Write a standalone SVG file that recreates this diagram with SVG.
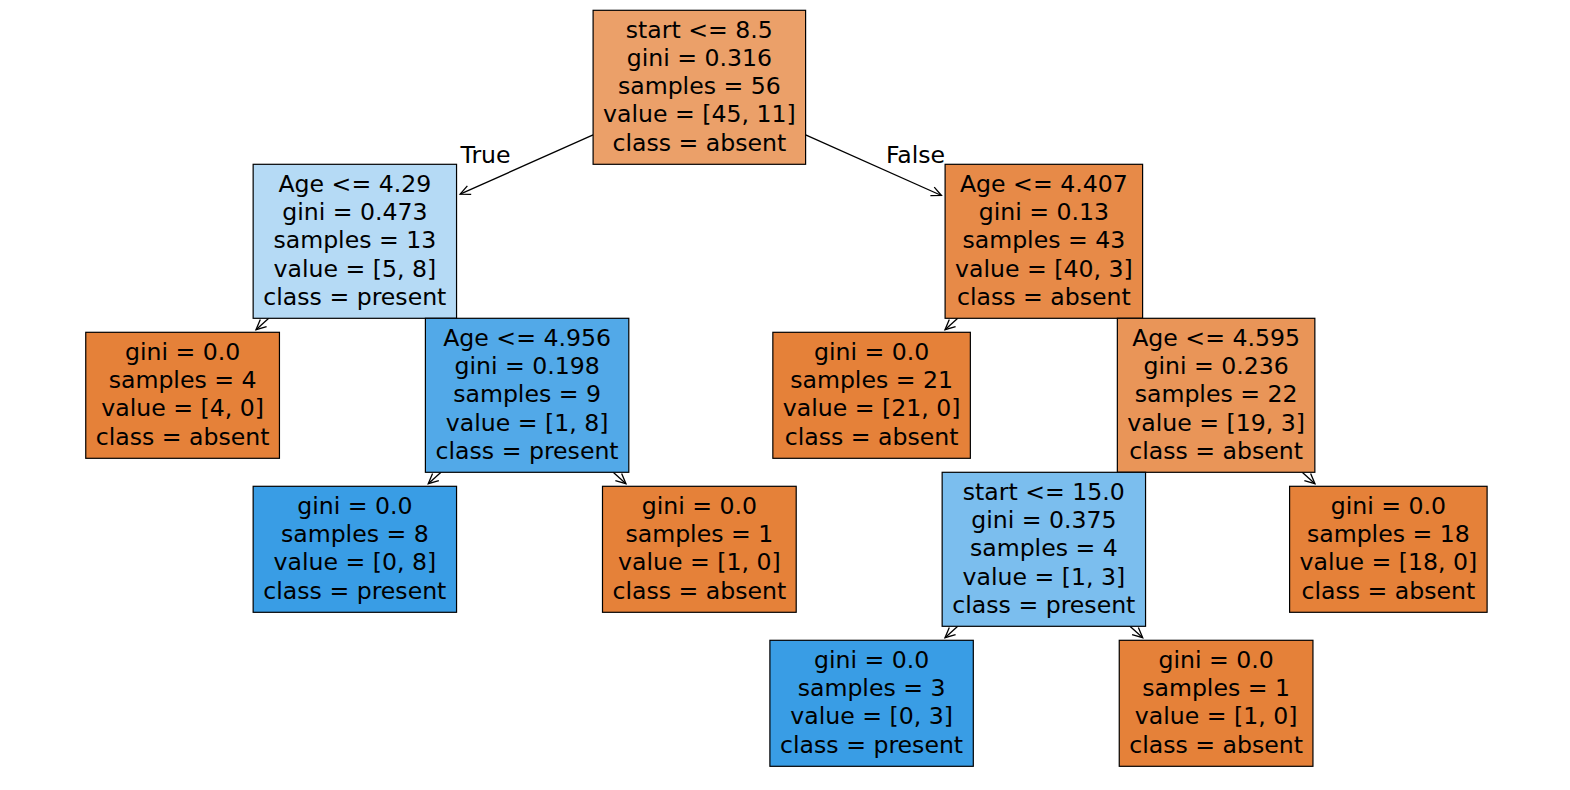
<svg xmlns="http://www.w3.org/2000/svg" width="1570" height="790" viewBox="0 0 1570 790">
<style>
rect.box{stroke:#000;stroke-width:1.2}
text{font-family:"DejaVu Sans","Liberation Sans",sans-serif;font-size:23.6px;fill:#000;text-anchor:middle}
.edges line{stroke:#000;stroke-width:1.3;marker-end:url(#ah)}
</style>
<defs>
<marker id="ah" markerUnits="userSpaceOnUse" viewBox="-12 -7 14 14" markerWidth="14" markerHeight="14" refX="0" refY="0" orient="auto" overflow="visible">
<path d="M-10,-4.7 L0,0 L-10,4.7" fill="none" stroke="#000" stroke-width="1.3"/>
</marker>
</defs>
<rect width="1570" height="790" fill="#fff"/>
<g class="edges" id="edges">
<line x1="593.1" y1="134.8" x2="460.15" y2="194.2"/>
<line x1="805.6" y1="134.8" x2="941.45" y2="195.5"/>
<line x1="268.75" y1="318.3" x2="256.0" y2="329.7"/>
<line x1="441.0" y1="472.3" x2="428.25" y2="483.7"/>
<line x1="613.2" y1="472.3" x2="625.95" y2="483.7"/>
<line x1="957.75" y1="318.3" x2="945.0" y2="329.7"/>
<line x1="1302.2" y1="472.3" x2="1314.95" y2="483.7"/>
<line x1="957.75" y1="626.3" x2="945.0" y2="637.7"/>
<line x1="1129.95" y1="626.3" x2="1142.7" y2="637.7"/>
</g>
<g id="edge-labels">
<text x="485.5" y="163.3">True</text>
<text x="915.5" y="163.3">False</text>
</g>
<g id="n0">
<rect class="box" x="593.1" y="10.3" width="212.5" height="154" fill="#eba069"/>
<text x="699.35" y="37.6">start &lt;= 8.5<tspan x="699.35" dy="28.3">gini = 0.316</tspan><tspan x="699.35" dy="28.3">samples = 56</tspan><tspan x="699.35" dy="28.3">value = [45, 11]</tspan><tspan x="699.35" dy="28.3">class = absent</tspan></text>
</g>
<g id="n1">
<rect class="box" x="253.15" y="164.3" width="203.4" height="154" fill="#b5daf5"/>
<text x="354.85" y="191.6">Age &lt;= 4.29<tspan x="354.85" dy="28.3">gini = 0.473</tspan><tspan x="354.85" dy="28.3">samples = 13</tspan><tspan x="354.85" dy="28.3">value = [5, 8]</tspan><tspan x="354.85" dy="28.3">class = present</tspan></text>
</g>
<g id="n2">
<rect class="box" x="85.75" y="332.3" width="193.7" height="126" fill="#e58139"/>
<text x="182.6" y="359.75">gini = 0.0<tspan x="182.6" dy="28.3">samples = 4</tspan><tspan x="182.6" dy="28.3">value = [4, 0]</tspan><tspan x="182.6" dy="28.3">class = absent</tspan></text>
</g>
<g id="n3">
<rect class="box" x="425.4" y="318.3" width="203.4" height="154" fill="#52a9e8"/>
<text x="527.1" y="345.6">Age &lt;= 4.956<tspan x="527.1" dy="28.3">gini = 0.198</tspan><tspan x="527.1" dy="28.3">samples = 9</tspan><tspan x="527.1" dy="28.3">value = [1, 8]</tspan><tspan x="527.1" dy="28.3">class = present</tspan></text>
</g>
<g id="n4">
<rect class="box" x="253.15" y="486.3" width="203.4" height="126" fill="#399de5"/>
<text x="354.85" y="513.75">gini = 0.0<tspan x="354.85" dy="28.3">samples = 8</tspan><tspan x="354.85" dy="28.3">value = [0, 8]</tspan><tspan x="354.85" dy="28.3">class = present</tspan></text>
</g>
<g id="n5">
<rect class="box" x="602.5" y="486.3" width="193.7" height="126" fill="#e58139"/>
<text x="699.35" y="513.75">gini = 0.0<tspan x="699.35" dy="28.3">samples = 1</tspan><tspan x="699.35" dy="28.3">value = [1, 0]</tspan><tspan x="699.35" dy="28.3">class = absent</tspan></text>
</g>
<g id="n6">
<rect class="box" x="945.1" y="164.3" width="197.5" height="154" fill="#e78a48"/>
<text x="1043.85" y="191.6">Age &lt;= 4.407<tspan x="1043.85" dy="28.3">gini = 0.13</tspan><tspan x="1043.85" dy="28.3">samples = 43</tspan><tspan x="1043.85" dy="28.3">value = [40, 3]</tspan><tspan x="1043.85" dy="28.3">class = absent</tspan></text>
</g>
<g id="n7">
<rect class="box" x="772.85" y="332.3" width="197.5" height="126" fill="#e58139"/>
<text x="871.6" y="359.75">gini = 0.0<tspan x="871.6" dy="28.3">samples = 21</tspan><tspan x="871.6" dy="28.3">value = [21, 0]</tspan><tspan x="871.6" dy="28.3">class = absent</tspan></text>
</g>
<g id="n8">
<rect class="box" x="1117.35" y="318.3" width="197.5" height="154" fill="#e99558"/>
<text x="1216.1" y="345.6">Age &lt;= 4.595<tspan x="1216.1" dy="28.3">gini = 0.236</tspan><tspan x="1216.1" dy="28.3">samples = 22</tspan><tspan x="1216.1" dy="28.3">value = [19, 3]</tspan><tspan x="1216.1" dy="28.3">class = absent</tspan></text>
</g>
<g id="n9">
<rect class="box" x="942.15" y="472.3" width="203.4" height="154" fill="#7bbeee"/>
<text x="1043.85" y="499.6">start &lt;= 15.0<tspan x="1043.85" dy="28.3">gini = 0.375</tspan><tspan x="1043.85" dy="28.3">samples = 4</tspan><tspan x="1043.85" dy="28.3">value = [1, 3]</tspan><tspan x="1043.85" dy="28.3">class = present</tspan></text>
</g>
<g id="n10">
<rect class="box" x="1289.6" y="486.3" width="197.5" height="126" fill="#e58139"/>
<text x="1388.35" y="513.75">gini = 0.0<tspan x="1388.35" dy="28.3">samples = 18</tspan><tspan x="1388.35" dy="28.3">value = [18, 0]</tspan><tspan x="1388.35" dy="28.3">class = absent</tspan></text>
</g>
<g id="n11">
<rect class="box" x="769.9" y="640.3" width="203.4" height="126" fill="#399de5"/>
<text x="871.6" y="667.75">gini = 0.0<tspan x="871.6" dy="28.3">samples = 3</tspan><tspan x="871.6" dy="28.3">value = [0, 3]</tspan><tspan x="871.6" dy="28.3">class = present</tspan></text>
</g>
<g id="n12">
<rect class="box" x="1119.25" y="640.3" width="193.7" height="126" fill="#e58139"/>
<text x="1216.1" y="667.75">gini = 0.0<tspan x="1216.1" dy="28.3">samples = 1</tspan><tspan x="1216.1" dy="28.3">value = [1, 0]</tspan><tspan x="1216.1" dy="28.3">class = absent</tspan></text>
</g>
</svg>
